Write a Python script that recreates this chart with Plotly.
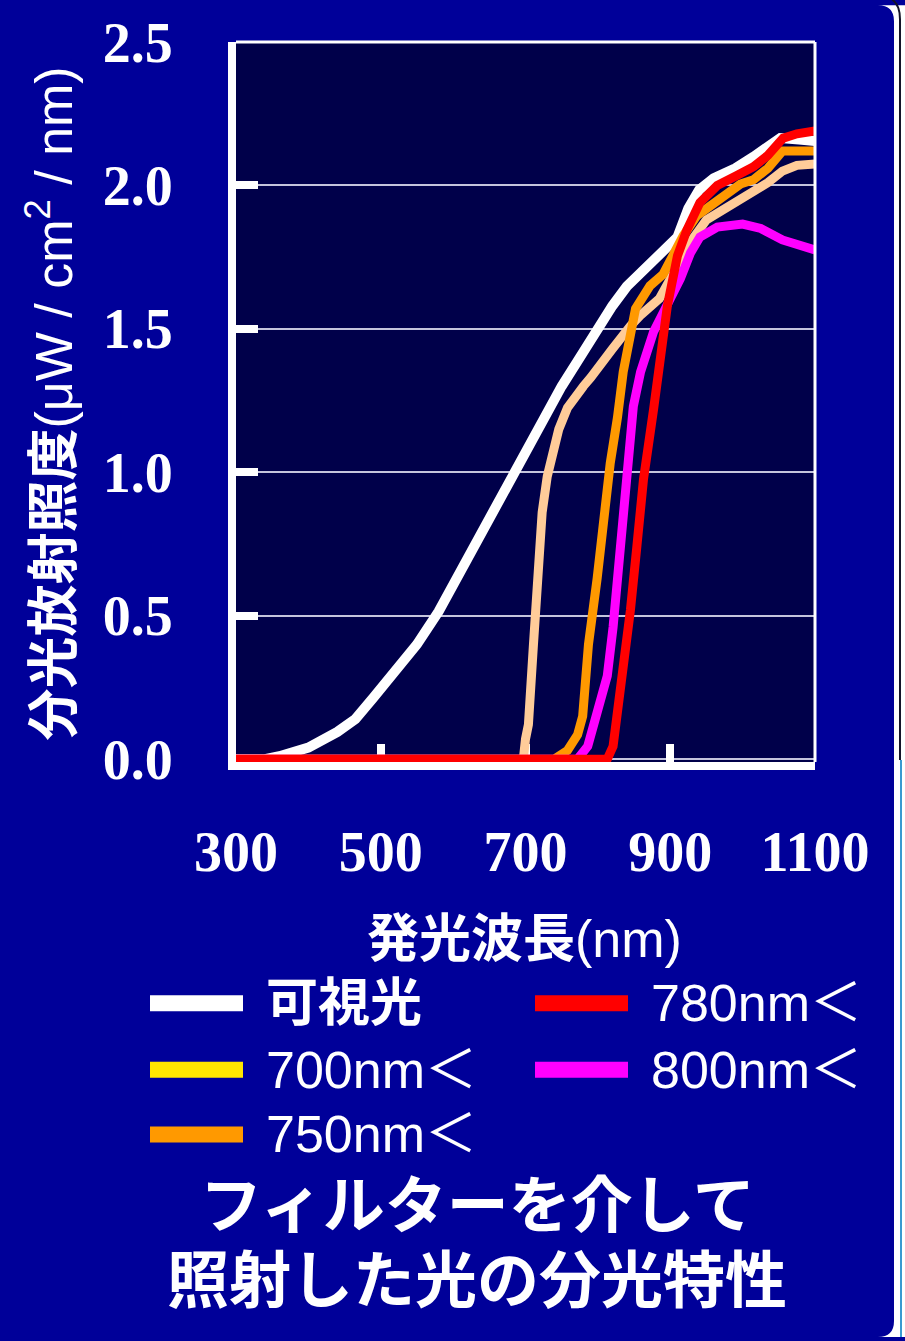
import plotly.graph_objects as go

# Spectral irradiance (uW / cm2 / nm) versus emission wavelength (nm)
wl_visible = [300, 340, 360, 400, 440, 465, 490, 520, 550, 580, 615, 650, 690, 720,
              750, 780, 800, 820, 840, 865, 890, 910, 925, 940, 960, 990, 1015, 1035, 1052, 1078, 1100]
irr_visible = [0, 0, 0.01, 0.04, 0.095, 0.14, 0.215, 0.305, 0.40, 0.515, 0.675, 0.845, 1.02, 1.16,
               1.30, 1.42, 1.505, 1.58, 1.648, 1.71, 1.765, 1.82, 1.92, 1.985, 2.025, 2.06, 2.10, 2.135,
               2.165, 2.16, 2.155]

wl_700 = [300, 697, 700, 704, 711, 718, 723, 730, 735, 738, 746, 758, 770, 780, 790, 800,
          820, 845, 860, 885, 905, 930, 950, 985, 1015, 1035, 1055, 1075, 1100]
irr_700 = [0, 0, 0.07, 0.12, 0.40, 0.68, 0.86, 0.985, 1.045, 1.08, 1.15, 1.225, 1.27, 1.30, 1.33, 1.36,
           1.43, 1.51, 1.55, 1.605, 1.70, 1.81, 1.88, 1.93, 1.975, 2.01, 2.05, 2.07, 2.075]

wl_750 = [300, 740, 758, 772, 779, 787, 799, 808, 817, 827, 835, 852, 872, 890, 904, 918,
          937, 965, 997, 1015, 1035, 1055, 1075, 1100]
irr_750 = [0, 0, 0.03, 0.085, 0.15, 0.40, 0.63, 0.86, 1.03, 1.19, 1.35, 1.57, 1.65, 1.69, 1.755, 1.825,
           1.895, 1.95, 2.005, 2.02, 2.06, 2.12, 2.12, 2.12]

wl_780 = [300, 813, 821, 828, 835, 845, 854, 863, 877, 886, 896, 910, 923, 941, 965, 992,
          1015, 1035, 1056, 1075, 1100]
irr_780 = [0, 0, 0.045, 0.17, 0.345, 0.52, 0.745, 0.975, 1.22, 1.37, 1.58, 1.755, 1.845, 1.94, 2.0, 2.035,
           2.065, 2.105, 2.165, 2.18, 2.19]

wl_800 = [300, 772, 786, 794, 813, 821, 831, 841, 849, 859, 877, 896, 914, 928, 941, 965,
          985, 1000, 1025, 1055, 1100]
irr_800 = [0, 0, 0.045, 0.11, 0.29, 0.46, 0.745, 1.03, 1.23, 1.35, 1.49, 1.585, 1.675, 1.765, 1.82, 1.855,
           1.865, 1.865, 1.85, 1.81, 1.775]

series_names = ["可視光", "700nm＜", "750nm＜", "780nm＜", "800nm＜"]
line_colors = ["#FFFFFF", "#FFCC99", "#FF9900", "#FF0000", "#FF00FF"]
legend_colors = ["#FFFFFF", "#FFE600", "#FF9900", "#FF0000", "#FF00FF"]

x_ticks = [300, 500, 700, 900, 1100]
y_ticks = [0, 0.5, 1.0, 1.5, 2.0, 2.5]
y_tick_labels = ["0.0", "0.5", "1.0", "1.5", "2.0", "2.5"]

x_title = "<b>発光波長</b>(nm)"
y_title = "<b>分光放射照度</b>(μW / cm<sup>2</sup> / nm)"
caption_lines = ["フィルターを介して", "照射した光の分光特性"]

W, H = 905, 1341
ML, MR, MT, MB = 236, 90, 37, 579
PANEL_BLUE = "#000099"
PLOT_NAVY = "#00004A"
SANS = "Liberation Sans, Noto Sans CJK JP, sans-serif"
CJK = "Noto Sans CJK JP, sans-serif"


def px_x(px):
    return (px - ML) / (W - ML - MR)


def px_y(py):
    return (H - MB - py) / (H - MT - MB)


series = [
    (wl_visible, irr_visible),
    (wl_700, irr_700),
    (wl_750, irr_750),
    (wl_780, irr_780),
    (wl_800, irr_800),
]

fig = go.Figure()
# red is drawn last so it sits on top
for i in [0, 1, 2, 4, 3]:
    wl, irr = series[i]
    fig.add_trace(go.Scatter(
        x=wl, y=irr, mode="lines", name=series_names[i], showlegend=False,
        line=dict(color=line_colors[i], width=10 if i == 0 else 9),
        hoverinfo="skip",
    ))

fig.update_layout(
    width=W, height=H,
    margin=dict(l=ML, r=MR, t=MT, b=MB, pad=0),
    paper_bgcolor=PANEL_BLUE,
    plot_bgcolor=PLOT_NAVY,
    showlegend=False,
)

fig.update_xaxes(
    range=[300, 1100], tickvals=x_ticks,
    ticks="inside", ticklen=18, tickwidth=8, tickcolor="white",
    showline=True, linewidth=8, linecolor="white",
    showgrid=False, zeroline=False, layer="below traces",
    tickfont=dict(family="Liberation Serif, serif", size=56, color="white", weight="bold"),
    ticklabelstandoff=34,
)
fig.update_yaxes(
    range=[-0.01, 2.5], tickvals=y_ticks, ticktext=y_tick_labels,
    ticks="inside", ticklen=22, tickwidth=8, tickcolor="white",
    showline=True, linewidth=8, linecolor="white",
    showgrid=True, gridcolor="#C4C4DC", gridwidth=1.5, zeroline=False, layer="below traces",
    tickfont=dict(family="Liberation Serif, serif", size=56, color="white", weight="bold"),
    ticklabelstandoff=44,
)

# thin frame on the top and right of the plotting area
fig.add_shape(type="line", xref="paper", yref="paper", x0=0, x1=1, y0=1, y1=1,
              line=dict(color="white", width=3))
fig.add_shape(type="line", xref="paper", yref="paper", x0=1, x1=1, y0=0, y1=1,
              line=dict(color="white", width=3))

# axis titles
fig.add_annotation(text=x_title, xref="paper", yref="paper", x=px_x(524), y=px_y(940),
                   xanchor="center", yanchor="middle", showarrow=False,
                   font=dict(family=SANS, size=52, color="white"))
fig.add_annotation(text=y_title, xref="paper", yref="paper", x=px_x(51), y=px_y(401),
                   xanchor="center", yanchor="middle", showarrow=False, textangle=-90,
                   font=dict(family=SANS, size=52, color="white"))

# legend: three rows in the left column, two in the right
row_y = [1005, 1072, 1137]
col_x = [150, 535]
for i, name in enumerate(series_names):
    col, row = (0, i) if i < 3 else (1, i - 3)
    sx, ry = col_x[col], row_y[row]
    fig.add_shape(type="line", xref="paper", yref="paper",
                  x0=px_x(sx), x1=px_x(sx + 93), y0=px_y(ry), y1=px_y(ry),
                  line=dict(color=legend_colors[i], width=16))
    label = name if name[0].isdigit() else f"<b>{name}</b>"
    fig.add_annotation(text=label, xref="paper", yref="paper",
                       x=px_x(sx + 114), y=px_y(ry), xanchor="left", yanchor="middle",
                       showarrow=False, font=dict(family=SANS, size=52, color="white"))

# caption
for line, cy in zip(caption_lines, [1204, 1280]):
    fig.add_annotation(text=f"<b>{line}</b>", xref="paper", yref="paper",
                       x=px_x(477), y=px_y(cy), xanchor="center", yanchor="middle",
                       showarrow=False, font=dict(family=CJK, size=62, color="white"))

# rounded right edge of the blue panel and its border strip
r = 16
edge = 894
strip = (f"M {px_x(W)},{px_y(0)} L {px_x(edge - r)},{px_y(0)} "
         f"Q {px_x(edge)},{px_y(0)} {px_x(edge)},{px_y(r)} "
         f"L {px_x(edge)},{px_y(H - r)} "
         f"Q {px_x(edge)},{px_y(H)} {px_x(edge - r)},{px_y(H)} "
         f"L {px_x(W)},{px_y(H)} Z")
fig.add_shape(type="path", xref="paper", yref="paper", path=strip,
              fillcolor="white", line=dict(width=0))
fig.add_shape(type="path", xref="paper", yref="paper",
              path=(f"M {px_x(900)},{px_y(760)} L {px_x(900)},{px_y(14)} "
                    f"Q {px_x(900)},{px_y(0)} {px_x(892)},{px_y(-6)}"),
              line=dict(color="#141428", width=2))
fig.add_shape(type="line", xref="paper", yref="paper",
              x0=px_x(901), x1=px_x(901), y0=px_y(760), y1=px_y(H),
              line=dict(color="#3A9AD0", width=2))

fig.write_html("out.html")
